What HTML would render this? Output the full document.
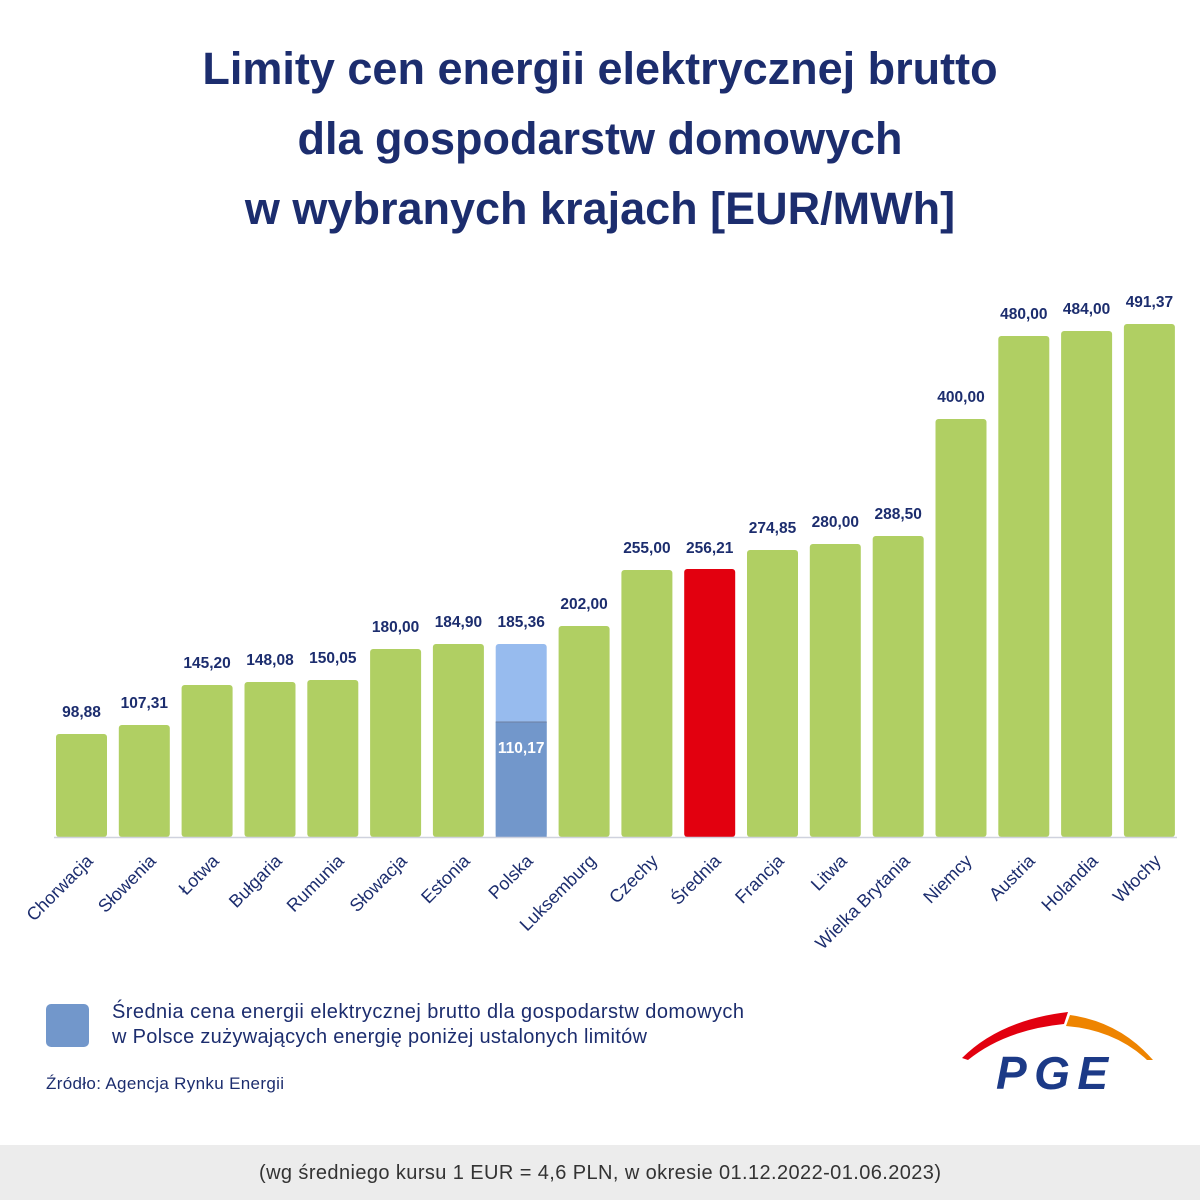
<!DOCTYPE html>
<html><head><meta charset="utf-8"><style>
body{margin:0;background:#fff;width:1200px;height:1200px;overflow:hidden}
svg{display:block}
</style></head><body>
<svg width="1200" height="1200" xmlns="http://www.w3.org/2000/svg" font-family="Liberation Sans, DejaVu Sans, sans-serif">
<g fill="#1c2d6e" font-weight="bold" font-size="45" text-anchor="middle">
<text x="600" y="84">Limity cen energii elektrycznej brutto</text>
<text x="600" y="154">dla gospodarstw domowych</text>
<text x="600" y="224">w wybranych krajach [EUR/MWh]</text>
</g>
<g fill="#b0cf63">
<rect x="56" y="734" width="51" height="103" rx="3"/>
<rect x="118.8" y="725" width="51" height="112" rx="3"/>
<rect x="181.6" y="685" width="51" height="152" rx="3"/>
<rect x="244.5" y="682" width="51" height="155" rx="3"/>
<rect x="307.3" y="680" width="51" height="157" rx="3"/>
<rect x="370.1" y="649" width="51" height="188" rx="3"/>
<rect x="432.9" y="644" width="51" height="193" rx="3"/>
<rect x="558.6" y="626" width="51" height="211" rx="3"/>
<rect x="621.4" y="570" width="51" height="267" rx="3"/>
<rect x="747" y="550" width="51" height="287" rx="3"/>
<rect x="809.8" y="544" width="51" height="293" rx="3"/>
<rect x="872.7" y="536" width="51" height="301" rx="3"/>
<rect x="935.5" y="419" width="51" height="418" rx="3"/>
<rect x="998.3" y="336" width="51" height="501" rx="3"/>
<rect x="1061.1" y="331" width="51" height="506" rx="3"/>
<rect x="1123.9" y="324" width="51" height="513" rx="3"/>
</g>
<rect x="684.2" y="569" width="51" height="268" rx="3" fill="#e2000f"/>
<rect x="495.7" y="644" width="51" height="193" rx="3" fill="#97bbee"/>
<rect x="495.7" y="722" width="51" height="115" fill="#7297cb"/>
<line x1="495.7" y1="722" x2="546.7" y2="722" stroke="#6d7fa0" stroke-width="1"/>
<line x1="54" y1="837.5" x2="1177" y2="837.5" stroke="#cfd2de" stroke-width="1.5"/>
<g fill="#1c2d6e" font-weight="bold" font-size="15.5" text-anchor="middle">
<text x="81.5" y="717">98,88</text>
<text x="144.3" y="708">107,31</text>
<text x="207.1" y="668">145,20</text>
<text x="270" y="665">148,08</text>
<text x="332.8" y="663">150,05</text>
<text x="395.6" y="632">180,00</text>
<text x="458.4" y="627">184,90</text>
<text x="521.2" y="627">185,36</text>
<text x="584.1" y="609">202,00</text>
<text x="646.9" y="553">255,00</text>
<text x="709.7" y="553">256,21</text>
<text x="772.5" y="533">274,85</text>
<text x="835.3" y="527">280,00</text>
<text x="898.2" y="519">288,50</text>
<text x="961" y="402">400,00</text>
<text x="1023.8" y="319">480,00</text>
<text x="1086.6" y="314">484,00</text>
<text x="1149.4" y="307">491,37</text>
<text x="521.2" y="753" fill="#fff">110,17</text>
</g>
<g fill="#1c2d6e" font-size="18" text-anchor="end">
<text transform="translate(94,862) rotate(-45)">Chorwacja</text>
<text transform="translate(157,862) rotate(-45)">Słowenia</text>
<text transform="translate(220,862) rotate(-45)">Łotwa</text>
<text transform="translate(283,862) rotate(-45)">Bułgaria</text>
<text transform="translate(345,862) rotate(-45)">Rumunia</text>
<text transform="translate(408,862) rotate(-45)">Słowacja</text>
<text transform="translate(471,862) rotate(-45)">Estonia</text>
<text transform="translate(534,862) rotate(-45)">Polska</text>
<text transform="translate(597,862) rotate(-45)">Luksemburg</text>
<text transform="translate(659,862) rotate(-45)">Czechy</text>
<text transform="translate(722,862) rotate(-45)">Średnia</text>
<text transform="translate(785,862) rotate(-45)">Francja</text>
<text transform="translate(848,862) rotate(-45)">Litwa</text>
<text transform="translate(911,862) rotate(-45)">Wielka Brytania</text>
<text transform="translate(973,862) rotate(-45)">Niemcy</text>
<text transform="translate(1036,862) rotate(-45)">Austria</text>
<text transform="translate(1099,862) rotate(-45)">Holandia</text>
<text transform="translate(1162,862) rotate(-45)">Włochy</text>
</g>
<rect x="46" y="1004" width="43" height="43" rx="5" fill="#7297cb"/>
<g fill="#1c2d6e" font-size="20">
<text x="112" y="1018" textLength="632">Średnia cena energii elektrycznej brutto dla gospodarstw domowych</text>
<text x="112" y="1043" textLength="535">w Polsce zużywających energię poniżej ustalonych limitów</text>
</g>
<text x="46" y="1089" fill="#1c2d6e" font-size="17" textLength="238">Źródło: Agencja Rynku Energii</text>
<path d="M962,1058 Q1000,1020 1068,1012 L1064,1024 Q1005,1030 968,1060 Z" fill="#e2000f"/>
<path d="M1070,1015 Q1120,1022 1153,1060 L1147,1060 Q1115,1030 1066,1026 Z" fill="#ee8400"/>
<text x="1052" y="1089" text-anchor="middle" fill="#1c3a87" font-size="46" font-weight="bold" font-style="italic" textLength="112">PGE</text>
<rect x="0" y="1145" width="1200" height="55" fill="#ececec"/>
<text x="600" y="1179" text-anchor="middle" fill="#333" font-size="20" textLength="682">(wg średniego kursu 1 EUR = 4,6 PLN, w okresie 01.12.2022-01.06.2023)</text>
</svg>
</body></html>
